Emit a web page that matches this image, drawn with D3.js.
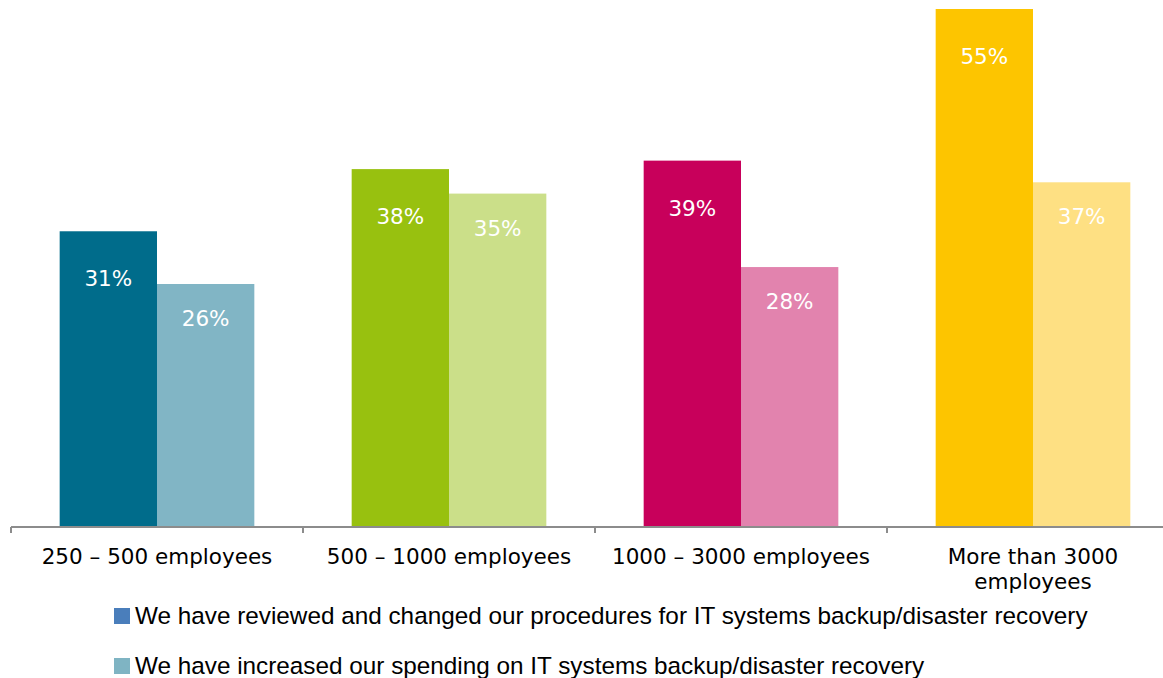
<!DOCTYPE html>
<html>
<head>
<meta charset="utf-8">
<script src="https://cdn.jsdelivr.net/npm/d3@7"></script>
<style>
  body { margin: 0; background: #fff; }
  .container { width: 1163px; height: 678px; overflow: hidden; }
</style>
</head>
<body>
<div class="container"></div>
<script>
var categories = ['250 \u2013 500 employees', '500 \u2013 1000 employees', '1000 \u2013 3000 employees', 'More than 3000 employees'];
var seriesNames = [
  'We have reviewed and changed our procedures for IT systems backup/disaster recovery',
  'We have increased our spending on IT systems backup/disaster recovery'
];
// values (labels show them rounded)
var reviewed = [31.4, 38.0, 38.9, 55.0];
var increased = [25.8, 35.4, 27.6, 36.6];
var darkColors = ['#006c8b', '#98c10f', '#c8005b', '#fdc500'];
var lightColors = ['#81b5c5', '#cbdf89', '#e283ae', '#fee083'];
var legendColors = ['#4a7ebb', '#7fb4c3'];

var translate = (x, y) => (`translate(${x}, ${y})`);
var pct = v => d3.format('.0f')(v) + '%';

const WIDTH = 1163;
const HEIGHT = 678;
const BASE = 527;
const TOP = 9;
const LEFT = 11;
const BAND = 292;

var xScale = d3.scaleBand()
    .domain(categories)
    .range([LEFT, LEFT + BAND * categories.length]);

var subScale = d3.scaleBand()
    .domain([0, 1])
    .range([BAND / 6, BAND * 5 / 6]);

var yScale = d3.scaleLinear()
    .domain([0, 55])
    .range([BASE, TOP]);

var data = categories.map((c, i) => ({
  cat: c,
  bars: [
    { s: 0, v: reviewed[i], color: darkColors[i], dy: 55 },
    { s: 1, v: increased[i], color: lightColors[i], dy: 42 }
  ]
}));

var loadChart = function () {
  let svg = d3.select('.container').append('svg')
      .attr('width', WIDTH)
      .attr('height', HEIGHT);

  let groups = svg.append('g').selectAll('g')
      .data(data)
      .enter().append('g')
      .attr('transform', d => translate(xScale(d.cat), 0));

  groups.selectAll('rect')
      .data(d => d.bars)
      .enter().append('rect')
      .attr('x', d => subScale(d.s))
      .attr('width', subScale.bandwidth())
      .attr('y', d => yScale(d.v))
      .attr('height', d => BASE - yScale(d.v))
      .attr('fill', d => d.color);

  groups.selectAll('text')
      .data(d => d.bars)
      .enter().append('text')
      .attr('x', d => subScale(d.s) + subScale.bandwidth() / 2)
      .attr('y', d => yScale(d.v) + d.dy)
      .attr('text-anchor', 'middle')
      .attr('fill', '#fff')
      .style('font-family', 'DejaVu Sans, Verdana, sans-serif')
      .style('font-size', '21.5px')
      .text(d => pct(d.v));

  // axis with ticks on the category boundaries
  let xAxis = d3.axisBottom(xScale).tickSize(0).tickPadding(0);
  let axis = svg.append('g')
      .attr('transform', translate(0, BASE))
      .call(xAxis);
  axis.select('.domain').remove();
  axis.selectAll('.tick text').remove();

  axis.append('line')
      .attr('x1', LEFT).attr('x2', WIDTH)
      .attr('y1', 0).attr('y2', 0)
      .attr('stroke', '#8c8c8c').attr('stroke-width', 2);

  axis.selectAll('.bound')
      .data(d3.range(categories.length + 1))
      .enter().append('line')
      .attr('x1', i => LEFT + i * BAND).attr('x2', i => LEFT + i * BAND)
      .attr('y1', 0).attr('y2', 6)
      .attr('stroke', '#8c8c8c').attr('stroke-width', 2);

  let labels = axis.selectAll('.lab')
      .data(categories)
      .enter().append('text')
      .attr('text-anchor', 'middle')
      .attr('fill', '#000')
      .style('font-family', 'DejaVu Sans, Verdana, sans-serif')
      .style('font-size', '21.5px')
      .attr('transform', d => translate(xScale(d) + BAND / 2, 37));

  labels.each(function (d) {
    let el = d3.select(this);
    let words = d.split(' ');
    let lines = [];
    let line = [];
    let probe = el.append('tspan');
    words.forEach(w => {
      let test = line.concat([w]).join(' ');
      probe.text(test);
      if (probe.node().getComputedTextLength() > 270 && line.length) {
        lines.push(line.join(' '));
        line = [w];
      } else {
        line.push(w);
      }
    });
    lines.push(line.join(' '));
    probe.remove();
    lines.forEach((l, k) => {
      el.append('tspan').attr('x', 0).attr('y', k * 25).text(l);
    });
  });

  // legend
  let legend = svg.append('g').attr('transform', translate(114, 0));
  let rows = legend.selectAll('g')
      .data(seriesNames)
      .enter().append('g')
      .attr('transform', (d, i) => translate(0, 624 + i * 50));

  rows.append('rect')
      .attr('x', 0).attr('y', -16)
      .attr('width', 16).attr('height', 16)
      .attr('fill', (d, i) => legendColors[i]);

  rows.append('text')
      .attr('x', 21)
      .attr('y', 0)
      .attr('fill', '#000')
      .style('font-family', 'Liberation Sans, Arial, sans-serif')
      .style('font-size', '22px')
      .text(d => d);

  // fit legend text to the width seen in the reference
  let first = rows.select('text').node();
  let w = first.getComputedTextLength();
  let fs = 22 * 953 / w;
  rows.selectAll('text').style('font-size', fs + 'px');
};

window.onload = loadChart;
</script>
</body>
</html>
